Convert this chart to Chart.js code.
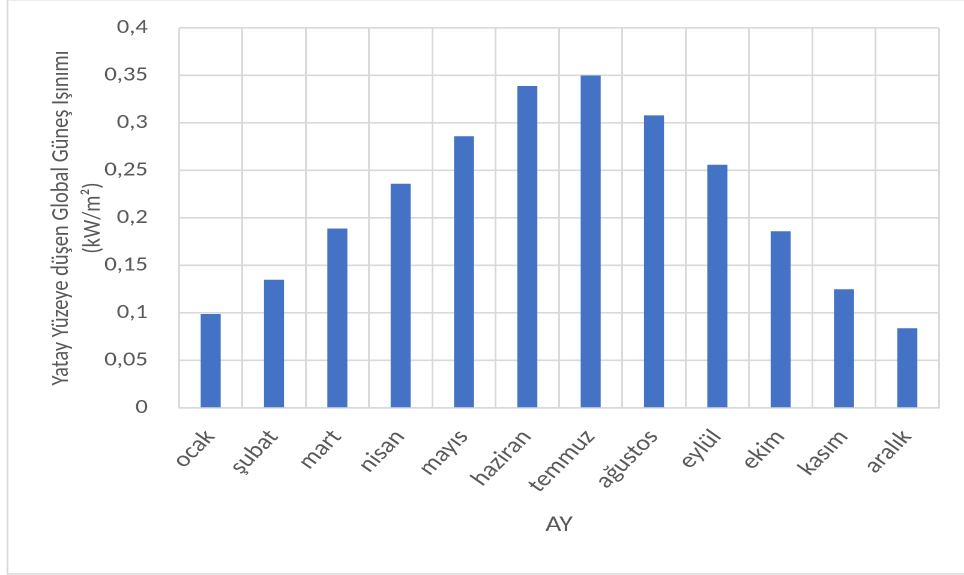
<!DOCTYPE html>
<html>
<head>
<meta charset="utf-8">
<script src="https://cdn.jsdelivr.net/npm/chart.js@4/dist/chart.umd.min.js"></script>
<style>
  html, body { margin: 0; padding: 0; background: #fff; overflow: hidden; }
  #wrap { width: 964px; height: 575px; position: relative; overflow: hidden; }
  /* the chart is laid out on a narrower canvas and widened to the full page width */
  #c { position: absolute; left: 0; top: 0; transform-origin: 0 0; }
</style>
</head>
<body>
<div id="wrap"><canvas id="c"></canvas></div>
<script>
// Monthly global solar irradiance on a horizontal surface (kW/m²)
const months = ['ocak', 'şubat', 'mart', 'nisan', 'mayıs', 'haziran', 'temmuz', 'ağustos', 'eylül', 'ekim', 'kasım', 'aralık'];
const irradiance = [0.099, 0.135, 0.189, 0.236, 0.286, 0.339, 0.350, 0.308, 0.256, 0.186, 0.125, 0.084];
const yTicks = [0, 0.05, 0.1, 0.15, 0.2, 0.25, 0.3, 0.35, 0.4];
const yTitle = ['Yatay Yüzeye düşen Global Güneş Işınımı', '(kW/m²)'];
const xTitle = 'AY';

const PAGE_W = 964, PAGE_H = 575;
const STRETCH = 1.2;                       // horizontal widening of the drawing
const W = Math.round(PAGE_W / STRETCH);    // logical canvas width
const H = PAGE_H;

const canvas = document.getElementById('c');
canvas.width = W; canvas.height = H;
canvas.style.width = W + 'px'; canvas.style.height = H + 'px';
canvas.style.transform = 'scaleX(' + (PAGE_W / W) + ')';

const FONT = 'Carlito, Lato, "Open Sans", sans-serif';
const TEXT = '#595959';
const GRID = '#d9d9d9';

// plot rectangle in page pixels
const PLOT_L = 179, PLOT_R = 939, PLOT_B = 408, PLOT_T = 28;
const sx = W / PAGE_W;
const PAD_L = 38;

// light frame around the chart
const framePlugin = {
  id: 'frame',
  beforeDraw(chart) {
    const ctx = chart.ctx;
    ctx.save();
    ctx.strokeStyle = GRID;
    ctx.lineWidth = 1.5;
    ctx.beginPath();
    ctx.moveTo(7.5 * sx, 0);
    ctx.lineTo(7.5 * sx, H - 1);
    ctx.lineTo(W, H - 1);
    ctx.stroke();
    ctx.strokeStyle = '#eeeeee';
    ctx.lineWidth = 1;
    ctx.beginPath();
    ctx.moveTo(7.5 * sx, 0.5);
    ctx.lineTo(W, 0.5);
    ctx.stroke();
    ctx.restore();
  }
};

new Chart(canvas, {
  type: 'bar',
  data: {
    labels: months,
    datasets: [{
      data: irradiance,
      backgroundColor: '#4472C4',
      borderWidth: 0,
      categoryPercentage: 1,
      barPercentage: 0.316
    }]
  },
  options: {
    responsive: false,
    animation: false,
    devicePixelRatio: 2,
    layout: { padding: { left: PAD_L, right: W - PLOT_R * sx, top: PLOT_T, bottom: 0 } },
    plugins: { legend: { display: false }, tooltip: { enabled: false } },
    scales: {
      x: {
        grid: { color: GRID, lineWidth: 1.5, offset: true, drawTicks: false },
        border: { color: GRID, width: 1.6 },
        ticks: {
          color: TEXT,
          font: { family: FONT, size: 22 },
          minRotation: 50, maxRotation: 50,
          padding: 17
        },
        title: {
          display: true, text: xTitle, color: TEXT,
          font: { family: FONT, size: 23 },
          padding: { top: 0, bottom: 36 }
        },
        afterFit(scale) {
          scale.height = H - PLOT_B;
          scale.paddingLeft = 0; scale.paddingRight = 0;
          scale.paddingTop = 0; scale.paddingBottom = 0;
        }
      },
      y: {
        min: 0, max: 0.4,
        afterBuildTicks(scale) { scale.ticks = yTicks.map(v => ({ value: v })); },
        grid: { color: GRID, lineWidth: 1.6, drawTicks: false },
        border: { display: false },
        ticks: {
          color: TEXT,
          font: { family: FONT, size: 20.5 },
          padding: 26,
          callback: v => String(+Number(v).toFixed(2)).replace('.', ',')
        },
        title: {
          display: true, text: yTitle, color: TEXT,
          font: { family: FONT, size: 20.5, lineHeight: 1.3 },
          padding: { top: 0, bottom: 6 }
        },
        afterFit(scale) {
          scale.width = PLOT_L * sx - PAD_L;
          scale.paddingTop = 0; scale.paddingBottom = 0;
        }
      }
    }
  },
  plugins: [framePlugin]
});
</script>
</body>
</html>
